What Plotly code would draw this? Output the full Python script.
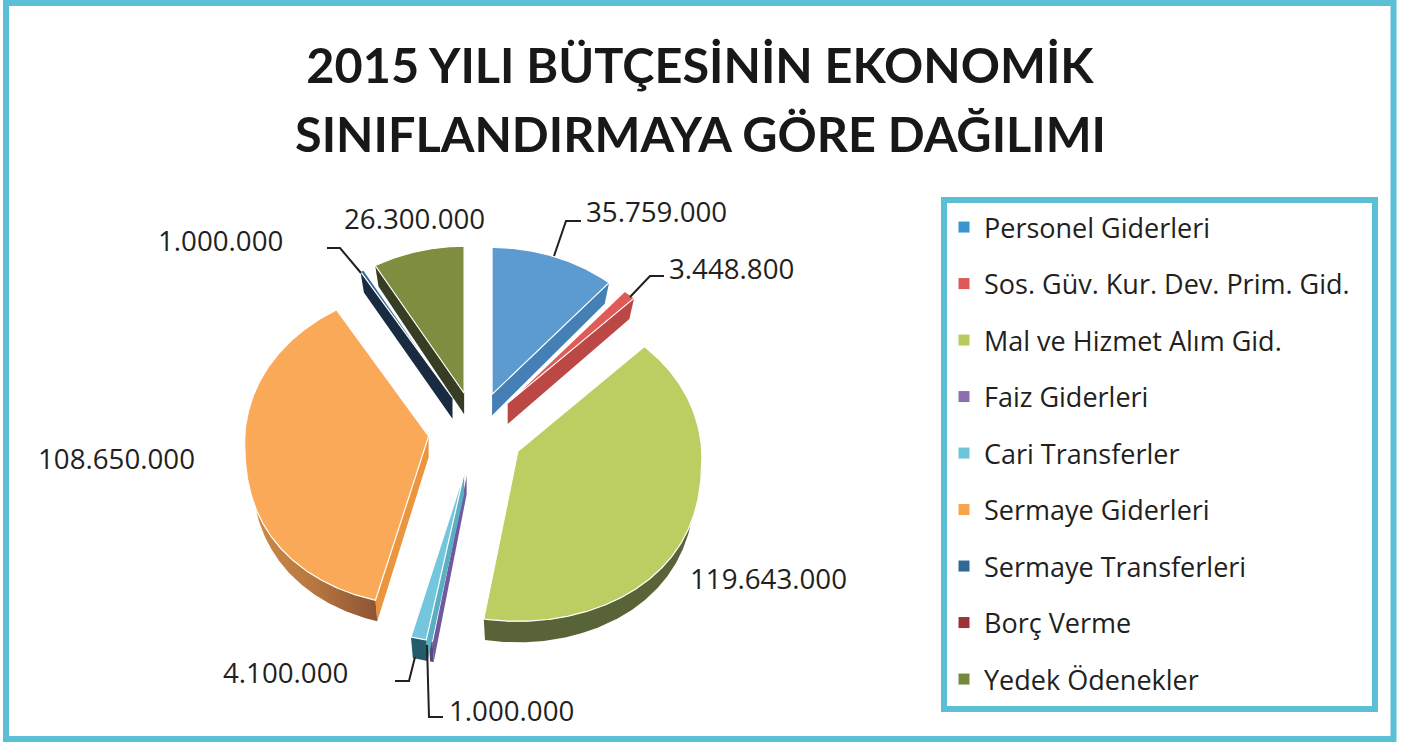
import math
import plotly.graph_objects as go

# ---- data ----
categories = ["Personel Giderleri", "Sos. Güv. Kur. Dev. Prim. Gid.", "Mal ve Hizmet Alım Gid.",
              "Faiz Giderleri", "Cari Transferler", "Sermaye Giderleri",
              "Sermaye Transferleri", "Borç Verme", "Yedek Ödenekler"]
values = [35759000, 3448800, 119643000, 1000000, 4100000, 108650000, 1000000, 0, 26300000]
title_lines = ["2015 YILI BÜTÇESİNİN EKONOMİK", "SINIFLANDIRMAYA GÖRE DAĞILIMI"]

# ---- styling ----
top_colors = ["#5B9BD0", "#DF5B58", "#BCCD62", "#8D6FB0", "#74C6DC", "#F9A958", "#2F6A9C", "#96333A", "#7F8D40"]
legend_colors = ["#3A94D0", "#DD5A58", "#B9CA5E", "#8A70AE", "#6FC4D8", "#F7A548", "#336796", "#9A3238", "#76883E"]
cut_colors = ["#4480B5", "#BC4846", "#8F9C4A", "#7159A0", "#5AAFC2", "#EB953F", "#182B40", "#6A2226", "#363D22"]
arc_colors = ["#3C6F9E", "#A33F3D", "#586337", "#584A72", "#255C6B", "#A0623A", "#182B40", "#5A1F22", "#363D22"]
FRAME = "#5BC0D6"
INK = "#231F20"
FONT = "Open Sans"

CX, CY = 476, 430          # pie centre in picture pixels
RX, R_UP, R_DOWN = 184, 147, 170   # perspective radii
RX_BACK = 0.09             # back of the pie is narrower
BULGE_UP, BULGE_DOWN = 0.88, 0.8   # shape of the perspective outline
PULL = 0.26
DEPTH = 21
BOTTOM_SHRINK = 0.035      # lower face of the pie is slightly smaller


def project(r, deg, up=BULGE_UP, down=BULGE_DOWN):
    a = math.radians(deg)
    s, c = math.sin(a), math.cos(a)
    narrow = 1 - RX_BACK * max(c, 0)
    if c > 0:
        dy = -R_UP * c ** up
    else:
        dy = R_DOWN * (-c) ** down
    return CX + RX * narrow * r * s, CY + dy * r


fig = go.Figure()
total = sum(values)
cum = 0
for i, (name, v) in enumerate(zip(categories, values)):
    start = cum / total * 360
    cum += v
    end = cum / total * 360
    if v == 0:
        continue
    mid = (start + end) / 2
    ax, ay = project(PULL, mid, 1, 1)
    dx, dy = ax - CX, ay - CY

    def pt(deg):
        x, y = project(1, deg)
        return x + dx, y + dy, math.sin(math.radians(deg))

    apex = (ax, ay, 0.0)
    n = max(int(end - start), 1) * 2
    degs = [start + (end - start) * k / n for k in range(n + 1)]
    arc = [pt(d) for d in degs]

    def wall(top, color, gradient=None):
        bottom = [(p[0] - BOTTOM_SHRINK * RX * p[2], p[1] + DEPTH) for p in reversed(top)]
        xs = [p[0] for p in top] + [p[0] for p in bottom] + [top[0][0]]
        ys = [p[1] for p in top] + [p[1] for p in bottom] + [top[0][1]]
        kw = dict(x=xs, y=ys, mode="lines", fill="toself", line=dict(width=0),
                  showlegend=False, hoverinfo="skip", fillcolor=color)
        if gradient:
            kw["fillgradient"] = dict(type="horizontal", colorscale=gradient)
        fig.add_trace(go.Scatter(**kw))

    # radial cuts that face the viewer
    if math.sin(math.radians(start)) < 0:
        wall([apex, arc[0]], cut_colors[i])
    if math.sin(math.radians(end)) > 0:
        wall([apex, arc[-1]], cut_colors[i])
    # outer rim on the front half
    rim = [pt(d) for d in degs if 90 <= d <= 270]
    if len(rim) < 2 and (end > 90 and start < 270):
        rim = arc
    if len(rim) >= 2:
        grad = None
        if i == 5:
            grad = [[0, "#D08C48"], [0.5, "#B87840"], [1, "#8E5434"]]
        wall(rim, arc_colors[i], grad)
    # top surface
    fig.add_trace(go.Scatter(
        x=[apex[0]] + [p[0] for p in arc] + [apex[0]],
        y=[apex[1]] + [p[1] for p in arc] + [apex[1]],
        mode="lines", fill="toself", fillcolor=top_colors[i],
        line=dict(color="white", width=1.2), showlegend=False,
        name=name, hoverinfo="name"))

# legend entries
for i, name in enumerate(categories):
    fig.add_trace(go.Scatter(
        x=[None], y=[None], mode="markers", name=name, legendgroup=name,
        marker=dict(symbol="square", size=11, color=legend_colors[i]), showlegend=True))

# leader lines: (from slice, via knee, to label)
leaders = [
    [(554, 256), (566, 221), (581, 221)],
    [(630, 297), (650, 276), (664, 276)],
    [(361, 273), (340, 248), (327, 248)],
    [(415, 657), (409, 681), (395, 681)],
    [(427, 645), (429, 717), (443, 717)],
]
for pts in leaders:
    fig.add_trace(go.Scatter(x=[p[0] for p in pts], y=[p[1] for p in pts], mode="lines",
                             line=dict(color=INK, width=2), showlegend=False, hoverinfo="skip"))


def fmt(v):
    return f"{v:,}".replace(",", ".")


label_pos = {0: (656, 211), 1: (768, 578), 2: None}
label_pos = {0: (656, 211), 1: (731, 268), 2: (768, 578), 3: (511, 710), 4: (285, 672),
             5: (116, 458), 6: (220, 240), 8: (414, 218)}
annotations = [dict(x=x, y=y, xref="x", yref="y", text=fmt(values[i]), showarrow=False,
                    font=dict(family=FONT, size=27.7, color=INK), xanchor="center", yanchor="middle")
               for i, (x, y) in label_pos.items()]
annotations.append(dict(x=700, y=133, xref="x", yref="y", text=title_lines[1], showarrow=False,
                        font=dict(family="Lato", size=48.6, color="#1A1718", weight="bold"),
                        xanchor="center", yanchor="middle"))

shapes = [
    dict(type="rect", xref="x", yref="y", x0=6, y0=3, x1=1393.5, y1=739,
         line=dict(color=FRAME, width=6), fillcolor="rgba(0,0,0,0)"),
    dict(type="rect", xref="x", yref="y", x0=944, y0=200, x1=1375, y1=709,
         line=dict(color=FRAME, width=6), fillcolor="rgba(0,0,0,0)"),
]

fig.update_layout(
    width=1411, height=742, autosize=False,
    margin=dict(l=0, r=0, t=0, b=0),
    paper_bgcolor="white", plot_bgcolor="white",
    xaxis=dict(range=[0, 1411], visible=False, fixedrange=True),
    yaxis=dict(range=[742, 0], visible=False, fixedrange=True),
    title=dict(text=title_lines[0], x=700 / 1411, xanchor="center", y=1 - 66 / 742,
               yanchor="middle", font=dict(family="Lato", size=48.6, color="#1A1718", weight="bold")),
    legend=dict(x=944 / 1411, y=1 - 203 / 742, xanchor="left", yanchor="top",
                font=dict(family=FONT, size=27, color=INK), tracegroupgap=18.4,
                bgcolor="rgba(0,0,0,0)", itemclick=False, itemdoubleclick=False),
    annotations=annotations, shapes=shapes, hovermode="closest",
)

fig.write_html("out.html", post_script="document.body.style.margin='0';document.body.style.overflow='hidden';",
               config={"displayModeBar": False})
